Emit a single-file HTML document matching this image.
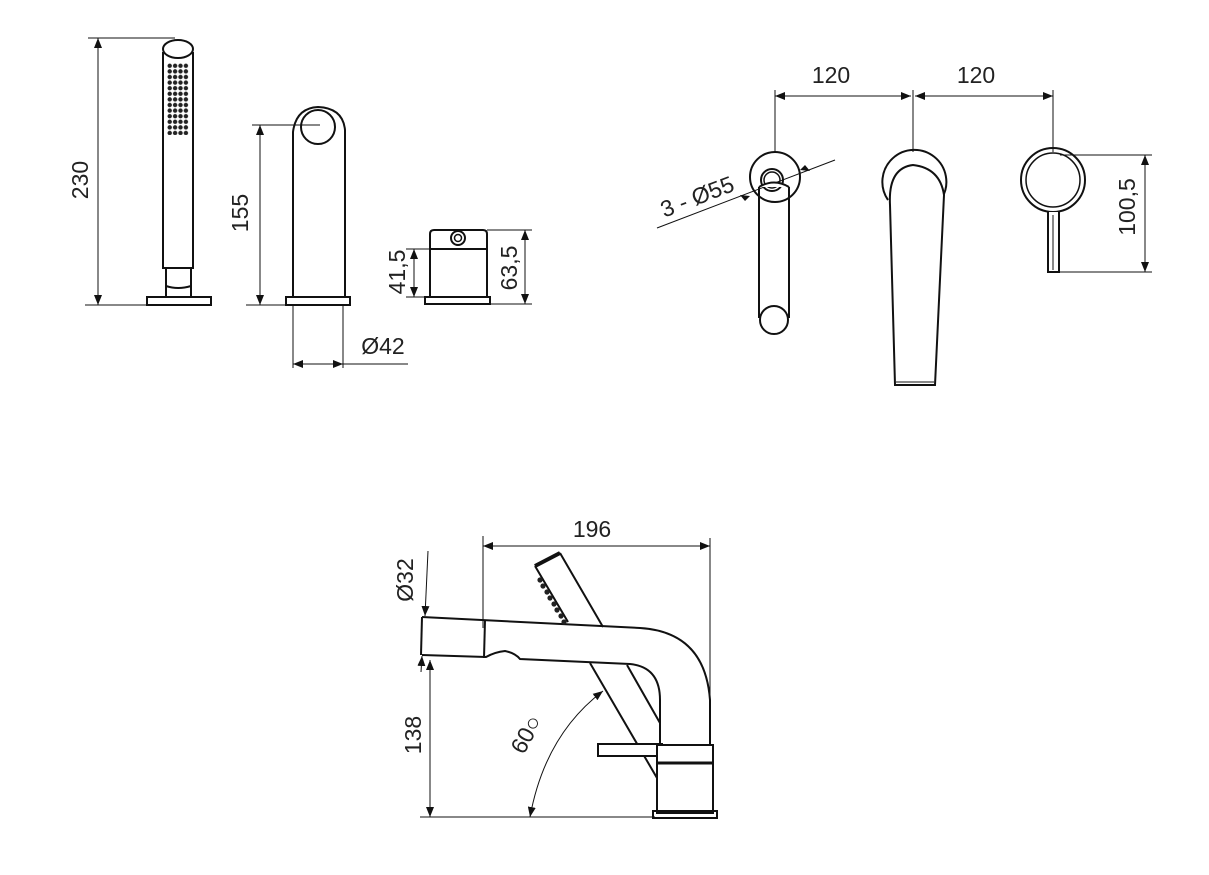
<!DOCTYPE html>
<html><head><meta charset="utf-8"><style>
html,body{margin:0;padding:0;background:#fff}
svg{display:block}
text{font-family:"Liberation Sans",sans-serif;font-size:23px;fill:#222}
</style></head><body>
<svg width="1209" height="875" viewBox="0 0 1209 875" xmlns="http://www.w3.org/2000/svg">
<defs>
<marker id="a" markerWidth="10" markerHeight="8" refX="10" refY="4" orient="auto-start-reverse" markerUnits="userSpaceOnUse"><path d="M0,0 L10,4 L0,8 Z" fill="#111"/></marker>
<pattern id="dots" x="167" y="63" width="5.4" height="5.6" patternUnits="userSpaceOnUse"><circle cx="2.7" cy="2.8" r="2.2" fill="#222"/></pattern>
</defs>
<g stroke="#111" fill="none" stroke-width="1">
<line x1="88" y1="38" x2="175" y2="38"/>
<line x1="85" y1="305" x2="146" y2="305"/>
<line x1="98" y1="38" x2="98" y2="305" marker-start="url(#a)" marker-end="url(#a)"/>
</g>
<g stroke="#111" fill="none" stroke-width="2">
<path d="M163,52 L163,268 L193,268 L193,52"/>
<ellipse cx="178" cy="49" rx="15" ry="9" fill="#fff"/>
<path d="M166,268 L166,297 M191,268 L191,297 M166,286 Q178,290 191,286"/>
<rect x="147" y="297" width="64" height="8"/>
</g>
<rect x="167" y="63" width="22" height="72" fill="url(#dots)"/>
<text transform="translate(88,180) rotate(-90)" text-anchor="middle">230</text>

<g stroke="#111" fill="none" stroke-width="1">
<line x1="252" y1="125" x2="320" y2="125"/>
<line x1="246" y1="305" x2="286" y2="305"/>
<line x1="260" y1="125" x2="260" y2="305" marker-start="url(#a)" marker-end="url(#a)"/>
<line x1="293" y1="305" x2="293" y2="368"/>
<line x1="343" y1="305" x2="343" y2="368"/>
<line x1="293" y1="364" x2="343" y2="364" marker-start="url(#a)" marker-end="url(#a)"/>
<line x1="343" y1="364" x2="408" y2="364"/>
</g>
<g stroke="#111" fill="none" stroke-width="2">
<path d="M293,297 L293,132 Q296,108 318,107 Q343,108 345,130 L345,297"/>
<circle cx="318" cy="127" r="17"/>
<rect x="286" y="297" width="64" height="8"/>
</g>
<text transform="translate(248,213) rotate(-90)" text-anchor="middle">155</text>
<text x="383" y="354" text-anchor="middle">Ø42</text>

<g stroke="#111" fill="none" stroke-width="1">
<line x1="406" y1="249" x2="430" y2="249"/>
<line x1="406" y1="297" x2="424" y2="297"/>
<line x1="414" y1="249" x2="414" y2="297" marker-start="url(#a)" marker-end="url(#a)"/>
<line x1="487" y1="230" x2="532" y2="230"/>
<line x1="491" y1="304" x2="532" y2="304"/>
<line x1="525" y1="230" x2="525" y2="304" marker-start="url(#a)" marker-end="url(#a)"/>
</g>
<g stroke="#111" fill="none" stroke-width="2">
<path d="M430,297 L430,234 Q430,230 434,230 L483,230 Q487,230 487,234 L487,297"/>
<line x1="430" y1="249" x2="487" y2="249"/>
<circle cx="458" cy="238" r="7"/>
<circle cx="458" cy="238" r="3.5" stroke-width="1.5"/>
<rect x="425" y="297" width="65" height="7"/>
</g>
<text transform="translate(405,272) rotate(-90)" text-anchor="middle">41,5</text>
<text transform="translate(517,268) rotate(-90)" text-anchor="middle">63,5</text>

<g stroke="#111" fill="none" stroke-width="1">
<line x1="775" y1="90" x2="775" y2="152"/>
<line x1="913" y1="90" x2="913" y2="152"/>
<line x1="1053" y1="90" x2="1053" y2="152"/>
<line x1="775" y1="96" x2="911" y2="96" marker-start="url(#a)" marker-end="url(#a)"/>
<line x1="915" y1="96" x2="1053" y2="96" marker-start="url(#a)" marker-end="url(#a)"/>
<line x1="657" y1="228" x2="835" y2="160"/>
<line x1="1060" y1="155" x2="1152" y2="155"/>
<line x1="1060" y1="272" x2="1152" y2="272"/>
<line x1="1145" y1="155" x2="1145" y2="272" marker-start="url(#a)" marker-end="url(#a)"/>
</g>
<path d="M750,196 l-10,-1 l5,6 z M800,170 l10,1 l-5,-6 z" fill="#111"/>
<g stroke="#111" fill="none" stroke-width="2">
<circle cx="775" cy="177" r="25"/>
<circle cx="772" cy="180" r="11"/>
<circle cx="772" cy="180" r="8" stroke-width="1.5"/>
<path d="M759,187 L759,318 M789,187 L789,318 M759,187 Q774,178 789,187" fill="#fff"/>
<circle cx="774" cy="320" r="14" fill="#fff"/>
<path d="M888,200 A32,32 0 1 1 942,198"/>
<path d="M890,205 Q888,168 913,165 Q940,168 944,195 L935,385 L895,385 Z" fill="#fff"/>
<line x1="896" y1="382" x2="934" y2="382" stroke-width="1"/>
<circle cx="1053" cy="180" r="32"/>
<circle cx="1053" cy="180" r="27" stroke-width="1.5"/>
<path d="M1048,212 L1048,272 L1059,272 L1059,212" fill="#fff"/>
<line x1="1053" y1="215" x2="1053" y2="270" stroke-width="1"/>
</g>
<text x="831" y="83" text-anchor="middle">120</text>
<text x="976" y="83" text-anchor="middle">120</text>
<text transform="translate(700,204) rotate(-21)" text-anchor="middle">3 - Ø55</text>
<text transform="translate(1135,207) rotate(-90)" text-anchor="middle">100,5</text>

<g stroke="#111" fill="none" stroke-width="1">
<line x1="483" y1="536" x2="483" y2="628"/>
<line x1="710" y1="538" x2="710" y2="745"/>
<line x1="483" y1="546" x2="710" y2="546" marker-start="url(#a)" marker-end="url(#a)"/>
<line x1="420" y1="817" x2="655" y2="817"/>
<line x1="430" y1="660" x2="430" y2="817" marker-start="url(#a)" marker-end="url(#a)"/>
<line x1="428" y1="551" x2="425" y2="616" marker-end="url(#a)"/>
<line x1="421" y1="672" x2="422" y2="656" marker-end="url(#a)"/>
<path d="M603,691 Q545,735 530,817" marker-start="url(#a)" marker-end="url(#a)"/>
</g>
<g stroke="#111" fill="none" stroke-width="2">
<path d="M422,617 L640,628 Q705,632 710,700 L710,745"/>
<path d="M422,655 L486,657 Q495,652 505,651 Q515,653 520,659 L630,664 Q660,667 660,700 L660,745"/>
<line x1="422" y1="617" x2="421" y2="655"/>
<line x1="485" y1="620" x2="484" y2="658"/>
<path d="M535,566 L560,553 M560,553 L603,627 M535,566 L568,622"/>
<line x1="535" y1="566" x2="560" y2="553" stroke-width="4"/>
<path d="M590,663 L657,778 M627,665 L660,723"/>
<rect x="598" y="744" width="64" height="12" fill="#fff"/>
<path d="M657,745 L713,745 L713,813 L657,813 Z" fill="#fff"/>
<line x1="657" y1="763" x2="713" y2="763" stroke-width="3"/>
<rect x="653" y="811" width="64" height="7"/>
</g>
<g fill="#222">
<circle cx="540" cy="580" r="2.6"/><circle cx="543" cy="586" r="2.6"/><circle cx="547" cy="592" r="2.6"/><circle cx="550" cy="598" r="2.6"/><circle cx="554" cy="604" r="2.6"/><circle cx="557" cy="610" r="2.6"/><circle cx="561" cy="616" r="2.6"/><circle cx="564" cy="622" r="2.6"/>
</g>
<text transform="translate(413,580) rotate(-90)" text-anchor="middle">Ø32</text>
<text x="592" y="537" text-anchor="middle">196</text>
<text transform="translate(421,735) rotate(-90)" text-anchor="middle">138</text>
<text transform="translate(533,738) rotate(-62)" text-anchor="middle">60○</text>
</svg>
</body></html>
